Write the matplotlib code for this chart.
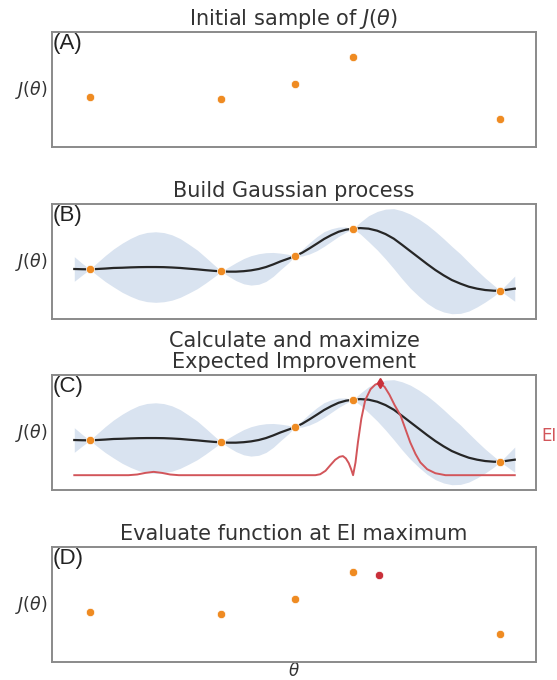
import numpy as np
import matplotlib.pyplot as plt

# sampled points of J(theta)
theta_pts = [0.078, 0.350, 0.501, 0.622, 0.926]
J_pts = [0.432, 0.414, 0.545, 0.786, 0.246]

# new point evaluated at EI maximum
theta_new = 0.675
J_new = 0.759

# GP mean and std
theta_grid = [0.046, 0.062, 0.078, 0.093, 0.110, 0.127, 0.145, 0.162, 0.179, 0.196,
              0.214, 0.231, 0.248, 0.265, 0.282, 0.300, 0.317, 0.334, 0.350, 0.365,
              0.380, 0.396, 0.411, 0.427, 0.442, 0.457, 0.472, 0.488, 0.501, 0.517,
              0.532, 0.547, 0.562, 0.577, 0.592, 0.607, 0.622, 0.637, 0.654, 0.672,
              0.689, 0.706, 0.723, 0.740, 0.758, 0.775, 0.792, 0.809, 0.826, 0.844,
              0.861, 0.878, 0.895, 0.913, 0.926, 0.941, 0.956]
gp_mean = [0.435, 0.433, 0.432, 0.435, 0.439, 0.444, 0.446, 0.449, 0.451, 0.452,
           0.452, 0.451, 0.448, 0.444, 0.438, 0.432, 0.425, 0.419, 0.414, 0.412,
           0.412, 0.416, 0.423, 0.435, 0.452, 0.475, 0.501, 0.525, 0.545, 0.577,
           0.615, 0.655, 0.696, 0.730, 0.759, 0.777, 0.786, 0.791, 0.786, 0.768,
           0.739, 0.699, 0.646, 0.591, 0.533, 0.478, 0.426, 0.380, 0.339, 0.307,
           0.281, 0.264, 0.252, 0.246, 0.246, 0.255, 0.264]
gp_std = [0.107, 0.052, 0.0, 0.054, 0.113, 0.165, 0.214, 0.252, 0.283, 0.301,
          0.307, 0.301, 0.284, 0.255, 0.214, 0.168, 0.113, 0.055, 0.0, 0.041,
          0.078, 0.110, 0.128, 0.133, 0.125, 0.104, 0.072, 0.038, 0.0, 0.029,
          0.049, 0.061, 0.064, 0.055, 0.041, 0.023, 0.0, 0.052, 0.113, 0.168,
          0.217, 0.261, 0.296, 0.322, 0.336, 0.342, 0.336, 0.319, 0.293, 0.258,
          0.212, 0.159, 0.104, 0.046, 0.0, 0.055, 0.110]

# expected improvement curve
theta_ei = [0.046, 0.158, 0.176, 0.193, 0.210, 0.227, 0.244, 0.262, 0.544, 0.554,
            0.565, 0.575, 0.585, 0.594, 0.601, 0.607, 0.613, 0.618, 0.622, 0.627,
            0.632, 0.639, 0.647, 0.658, 0.668, 0.677, 0.687, 0.697, 0.708, 0.720,
            0.730, 0.740, 0.751, 0.761, 0.775, 0.792, 0.813, 0.956]
ei = [0.129, 0.129, 0.135, 0.149, 0.158, 0.149, 0.135, 0.129, 0.129, 0.137,
      0.167, 0.216, 0.263, 0.289, 0.295, 0.275, 0.234, 0.181, 0.129, 0.240,
      0.415, 0.620, 0.781, 0.877, 0.918, 0.930, 0.898, 0.830, 0.737, 0.649,
      0.532, 0.415, 0.313, 0.240, 0.181, 0.146, 0.129, 0.129]

orange = '#ef8b22'
red = '#c9303a'
ei_col = '#d2555a'
band = '#d9e3f0'

titles = [r'Initial sample of $J(\theta)$', 'Build Gaussian process',
          'Calculate and maximize\nExpected Improvement', 'Evaluate function at EI maximum']
letters = ['(A)', '(B)', '(C)', '(D)']
bottoms = [0.7838, 0.5309, 0.2794, 0.0265]

fig = plt.figure(figsize=(5.57, 6.8), dpi=100)

mean = np.array(gp_mean)
std = np.array(gp_std)

for i in range(4):
    ax = fig.add_axes([0.0934, bottoms[i], 0.869, 0.169])
    ax.set_xlim(0, 1)
    ax.set_ylim(0, 1)
    ax.set_xticks([])
    ax.set_yticks([])
    for s in ax.spines.values():
        s.set_color('#8a8a8a')
        s.set_linewidth(1.4)
    ax.set_title(titles[i], fontsize=15, color='#333333', pad=5, linespacing=1.05)
    ax.text(0.002, 0.99, letters[i], transform=ax.transAxes, fontsize=16,
            family='Liberation Sans', va='top', ha='left', color='#222222')
    ax.text(-0.01, 0.5, r'$J(\theta)$', transform=ax.transAxes, fontsize=12.5,
            color='#333333', ha='right', va='center')

    if i in (1, 2):
        ax.fill_between(theta_grid, mean - std, mean + std, color=band, lw=0, zorder=1)
        ax.plot(theta_grid, gp_mean, color='#262626', lw=1.6, zorder=2)
    if i == 2:
        ax.plot(theta_ei, ei, color=ei_col, lw=1.4, zorder=3)
        k = int(np.argmax(ei))
        ax.plot(theta_ei[k], ei[k], marker='d', color=red, ms=5, zorder=4)
        ax.text(1.012, 0.47, 'EI', transform=ax.transAxes, color=ei_col,
                fontsize=12, va='center', ha='left')
    ax.plot(theta_pts, J_pts, 'o', color=orange, ms=6, mec='white', mew=0.5, zorder=5)
    if i == 3:
        ax.plot(theta_new, J_new, 'o', color=red, ms=6, mec='white', mew=0.5, zorder=5)
        ax.set_xlabel(r'$\theta$', fontsize=12, color='#333333', labelpad=0)

fig.savefig('out.png', dpi=100)
